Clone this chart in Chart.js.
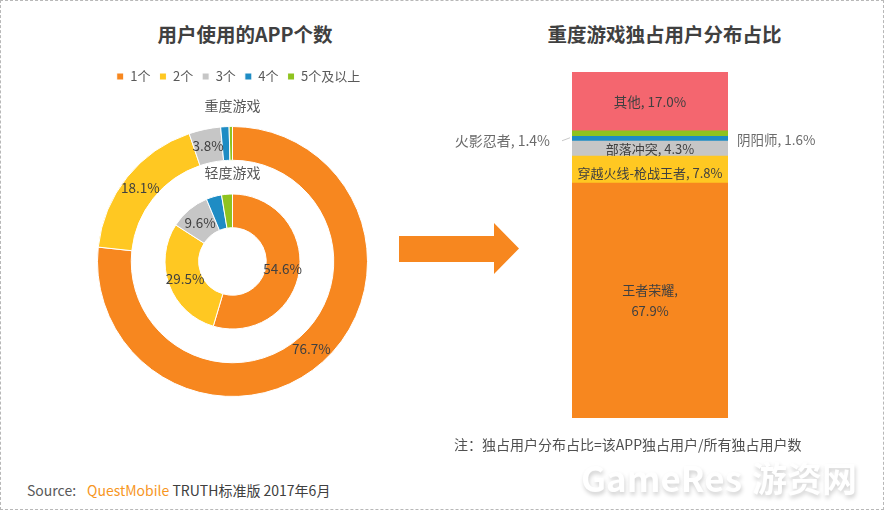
<!DOCTYPE html>
<html>
<head>
<meta charset="utf-8">
<script src="https://cdn.jsdelivr.net/npm/chart.js@4"></script>
<style>
    html, body { margin: 0; padding: 0; background: #fff; }
    body { position: relative; width: 884px; height: 510px; overflow: hidden; font-family: "Noto Sans CJK SC", sans-serif; }
    .txt { position: absolute; white-space: nowrap; color: #404040; }
    .chart-title { top: 20px; font-size: 19.5px; font-weight: bold; line-height: 28px; transform: translateX(-50%); }
    canvas { position: absolute; }
    #arrow { position: absolute; left: 399px; top: 223px; }
    #frame { position: absolute; left: 0; top: 0; width: 882px; height: 508px; border: 1px dashed #b8b8b8; }
    #watermark { left: 581px; top: 452px; font-size: 35px; line-height: 50px; font-weight: bold; color: #fff; text-shadow: 1px 3px 4px #d0d0d0; }
    #watermark span { margin-left: 10px; }
</style>
</head>
<body>
<div id="frame"></div>
<div class="txt chart-title" style="left:245px">用户使用的APP个数</div>
<div class="txt chart-title" style="left:664.5px">重度游戏独占用户分布占比</div>
<canvas id="donutChart"></canvas>
<canvas id="stackChart"></canvas>
<svg id="arrow" width="122" height="52"><polygon points="0,13 95,13 95,0 120,25.5 95,51 95,39 0,39" fill="#F7871F"/></svg>
<div class="txt" style="left:454px;top:434px;font-size:14px;line-height:20px;color:#505050">注：独占用户分布占比=该APP独占用户/所有独占用户数</div>
<div class="txt" style="left:27px;top:480px;font-size:14px;line-height:20px"><span style="color:#595959">Source:</span><span style="color:#F7971F;margin-left:11px">QuestMobile</span> TRUTH标准版 2017年6月</div>
<div class="txt" id="watermark">GameRes<span>游资网</span></div>
<script>
// Data
const appCounts = ['1个', '2个', '3个', '4个', '5个及以上'];
const heavyShare = [76.7, 18.1, 3.8, 1.0, 0.4];
const lightShare = [54.6, 29.5, 9.6, 3.7, 2.6];
const heavyShownLabels = ['76.7%', '18.1%', '3.8%', '', ''];
const lightShownLabels = ['54.6%', '29.5%', '9.6%', '', ''];
const donutColors = ['#F7871F', '#FFC822', '#C6C6C6', '#1E8CC4', '#8FC31F'];

const gameNames = ['王者荣耀', '穿越火线-枪战王者', '部落冲突', '火影忍者', '阴阳师', '其他'];
const gameShare = [67.9, 7.8, 4.3, 1.4, 1.6, 17.0];
const gameColors = ['#F7871F', '#FFC822', '#C6C6C6', '#1E8CC4', '#8FC31F', '#F4666F'];

const fontFamily = '"Noto Sans CJK SC", sans-serif';
const labelColor = '#404040';

// Put the percent labels in the middle of each ring slice, plus the second ring caption
const donutLabels = {
    id: 'donutLabels',
    afterLayout(chart) {
        // legend sits a little right of the ring centre in the original
        chart.legend.left += 6;
        chart.legend.right += 6;
    },
    afterDatasetsDraw(chart) {
        const ctx = chart.ctx;
        ctx.save();
        ctx.font = '13.5px ' + fontFamily;
        ctx.fillStyle = labelColor;
        ctx.textAlign = 'center';
        ctx.textBaseline = 'middle';
        [[0, heavyShownLabels], [2, lightShownLabels]].forEach(([index, labels]) => {
            chart.getDatasetMeta(index).data.forEach((arc, i) => {
                const pos = arc.tooltipPosition();
                ctx.fillText(labels[i], pos.x, pos.y);
            });
        });
        // caption of the inner ring sits in the white gap
        const arc = chart.getDatasetMeta(1).data[0];
        ctx.font = '14px ' + fontFamily;
        ctx.fillStyle = '#595959';
        ctx.fillText('轻度游戏', arc.x, arc.y - (arc.innerRadius + arc.outerRadius) / 2 - 4);
        ctx.restore();
    }
};

// Labels of the stacked column: inside the big segments, beside the thin ones
const stackLabels = {
    id: 'stackLabels',
    afterDatasetsDraw(chart) {
        const ctx = chart.ctx;
        const area = chart.chartArea;
        ctx.save();
        ctx.font = '13px ' + fontFamily;
        ctx.textBaseline = 'middle';
        gameNames.forEach((name, i) => {
            const bar = chart.getDatasetMeta(i).data[0];
            const midY = (bar.y + bar.base) / 2;
            const text = name + ', ' + gameShare[i].toFixed(1) + '%';
            ctx.fillStyle = labelColor;
            ctx.textAlign = 'center';
            if (i === 0) {
                ctx.fillText(name + ',', bar.x, midY - 10);
                ctx.fillText(gameShare[i].toFixed(1) + '%', bar.x, midY + 11);
            } else if (i === 3) {
                ctx.font = '14px ' + fontFamily;
                ctx.fillStyle = '#6b6b6b';
                ctx.textAlign = 'right';
                ctx.fillText(text, area.left - 22, midY + 2);
                ctx.strokeStyle = '#c8c8c8';
                ctx.beginPath();
                ctx.moveTo(area.left - 10, midY + 2);
                ctx.lineTo(area.left - 2, midY - 1);
                ctx.stroke();
            } else if (i === 4) {
                ctx.font = '13.5px ' + fontFamily;
                ctx.fillStyle = '#6b6b6b';
                ctx.textAlign = 'left';
                ctx.fillText(text, area.right + 9, midY + 6);
            } else {
                ctx.fillText(text, bar.x, midY + (i === 1 ? 3 : 0));
            }
        });
        ctx.restore();
    }
};

// Left chart: two rings, with an empty ring between them for the gap
function drawDonut() {
    const canvas = document.getElementById('donutChart');
    canvas.style.left = '0px';
    canvas.style.top = '61px';
    canvas.style.width = '465px';
    canvas.style.height = '336px';
    new Chart(canvas.getContext('2d'), {
        type: 'doughnut',
        data: {
            labels: appCounts,
            datasets: [
                { data: heavyShare, backgroundColor: donutColors, borderColor: '#fff', borderWidth: 1 },
                { data: [100], backgroundColor: 'rgba(0,0,0,0)', borderWidth: 0 },
                { data: lightShare, backgroundColor: donutColors, borderColor: '#fff', borderWidth: 1 }
            ]
        },
        options: {
            responsive: false,
            animation: false,
            cutout: '25%',
            plugins: {
                tooltip: { enabled: false },
                legend: {
                    position: 'top',
                    weight: 1000,
                    labels: { boxWidth: 7, boxHeight: 7, padding: 9, color: '#595959', font: { family: fontFamily, size: 13 } }
                },
                subtitle: {
                    display: true,
                    text: '重度游戏',
                    weight: 500,
                    color: '#595959',
                    font: { family: fontFamily, size: 14 },
                    padding: { top: 4, bottom: 12.2 }
                }
            }
        },
        plugins: [donutLabels]
    });
}

// Right chart: one stacked column
function drawStack() {
    const canvas = document.getElementById('stackChart');
    canvas.style.left = '440px';
    canvas.style.top = '62px';
    canvas.style.width = '400px';
    canvas.style.height = '366px';
    new Chart(canvas.getContext('2d'), {
        type: 'bar',
        data: {
            labels: ['重度游戏'],
            datasets: gameNames.map((name, i) => ({
                label: name,
                data: [gameShare[i]],
                backgroundColor: gameColors[i],
                barPercentage: 1,
                categoryPercentage: 1
            }))
        },
        options: {
            responsive: false,
            animation: false,
            layout: { padding: { left: 132, right: 112, top: 10, bottom: 10 } },
            scales: {
                x: { stacked: true, display: false },
                y: { stacked: true, display: false, min: 0, max: 100 }
            },
            plugins: { legend: { display: false }, tooltip: { enabled: false } }
        },
        plugins: [stackLabels]
    });
}

// canvas sizes have to be set before Chart.js reads them
document.getElementById('donutChart').width = 465;
document.getElementById('donutChart').height = 336;
document.getElementById('stackChart').width = 400;
document.getElementById('stackChart').height = 366;

drawDonut();
drawStack();
</script>
</body>
</html>
